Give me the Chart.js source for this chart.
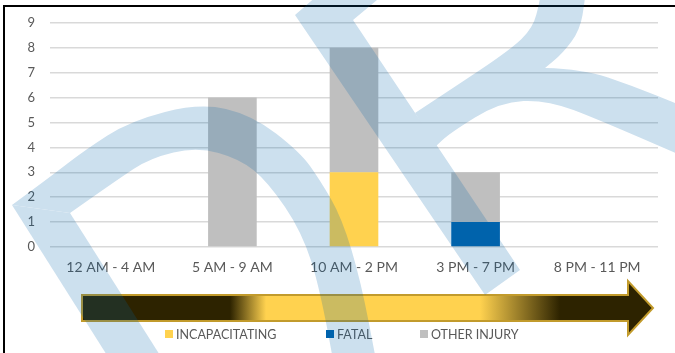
<!DOCTYPE html>
<html>
<head>
<meta charset="utf-8">
<script src="https://cdn.jsdelivr.net/npm/chart.js@4.4.0/dist/chart.umd.min.js"></script>
<style>
  html, body { margin: 0; padding: 0; background: #fff; }
  canvas { display: block; }
</style>
</head>
<body>
<canvas id="crashChart" width="675" height="353"></canvas>
<script>
// data
const categories = ["12 AM - 4 AM", "5 AM - 9 AM", "10 AM - 2 PM", "3 PM - 7 PM", "8 PM - 11 PM"];
const incapacitating = [0, 0, 3, 0, 0];
const fatal = [0, 0, 0, 1, 0];
const otherInjury = [0, 6, 5, 2, 0];
const yMax = 9;
const yStep = 1;

const FONT = "Lato, 'Open Sans', sans-serif";

// smooth line through points (current point must be pts[0])
function smoothThrough(ctx, pts) {
  for (let i = 1; i < pts.length - 1; i++) {
    const mx = (pts[i][0] + pts[i + 1][0]) / 2;
    const my = (pts[i][1] + pts[i + 1][1]) / 2;
    ctx.quadraticCurveTo(pts[i][0], pts[i][1], mx, my);
  }
  const last = pts[pts.length - 1];
  ctx.lineTo(last[0], last[1]);
}

// arrow + legend drawn under the watermark
const decorPlugin = {
  id: "decor",
  afterDatasetsDraw(chart) {
    const ctx = chart.ctx;
    ctx.save();

    // time arrow
    const x0 = 82, x1 = 628, tip = 653, cy = 308;
    const grad = ctx.createLinearGradient(x0, 0, tip, 0);
    const dark = "#2d2300", gold = "#ffd24f";
    const at = x => (x - x0) / (tip - x0);
    grad.addColorStop(0, dark);
    grad.addColorStop(at(230), dark);
    grad.addColorStop(at(266), gold);
    grad.addColorStop(at(480), gold);
    grad.addColorStop(at(560), dark);
    grad.addColorStop(1, dark);
    ctx.beginPath();
    ctx.moveTo(x0, cy - 13);
    ctx.lineTo(x1, cy - 13);
    ctx.lineTo(x1, cy - 27);
    ctx.lineTo(tip, cy);
    ctx.lineTo(x1, cy + 27);
    ctx.lineTo(x1, cy + 13);
    ctx.lineTo(x0, cy + 13);
    ctx.closePath();
    ctx.fillStyle = grad;
    ctx.fill();
    ctx.lineWidth = 2;
    ctx.strokeStyle = "#c29b2c";
    ctx.stroke();

    // legend
    const legendX = [165, 326, 420];
    const ly = 334;
    ctx.font = "12.5px " + FONT;
    ctx.textBaseline = "middle";
    ctx.textAlign = "left";
    chart.data.datasets.forEach((ds, i) => {
      ctx.fillStyle = ds.backgroundColor;
      ctx.fillRect(legendX[i], ly - 4, 8, 8);
      ctx.fillStyle = "#595959";
      ctx.fillText(ds.label, legendX[i] + 11, ly + 1);
    });

    // frame
    ctx.fillStyle = "#000";
    ctx.fillRect(3, 5, 672, 2);
    ctx.fillRect(3, 5, 2, 348);
    ctx.restore();
  },
  afterDraw(chart) {
    // light blue logo watermark over everything
    const off = document.createElement("canvas");
    off.width = chart.width;
    off.height = chart.height;
    const o = off.getContext("2d");
    o.fillStyle = "rgb(0,100,170)";

    // arch
    o.beginPath();
    o.moveTo(12, 205);
    smoothThrough(o, [[12, 205], [50, 177], [85, 150], [130, 121], [200, 103], [252, 115], [300, 152], [320, 180], [342, 218], [361, 282], [376, 360]]);
    o.lineTo(333, 360);
    smoothThrough(o, [[333, 360], [321, 292], [302, 232], [268, 182], [240, 159], [197, 147], [150, 158], [117, 180], [70, 213]]);
    o.closePath();
    o.fill();

    // lower left leg
    o.beginPath();
    o.moveTo(12, 205);
    o.lineTo(70, 213);
    o.lineTo(163, 360);
    o.lineTo(110, 360);
    o.closePath();
    o.fill();

    // long diagonal
    o.beginPath();
    o.moveTo(318, -5);
    o.lineTo(295, 15);
    o.lineTo(485, 295);
    o.lineTo(520, 270);
    o.lineTo(353, 20);
    o.lineTo(383, -5);
    o.closePath();
    o.fill();

    // upper right curl
    o.beginPath();
    o.moveTo(415, 113);
    smoothThrough(o, [[415, 113], [450, 90], [510, 50], [533, 28], [540, 0], [540, -5]]);
    o.lineTo(585, -5);
    smoothThrough(o, [[585, -5], [585, 0], [580, 30], [563, 53], [545, 68]]);
    smoothThrough(o, [[545, 68], [583, 69], [633, 86], [680, 105]]);
    o.lineTo(680, 155);
    smoothThrough(o, [[680, 155], [600, 120], [547, 100], [500, 102], [450, 133], [435, 147]]);
    o.closePath();
    o.fill();

    const ctx = chart.ctx;
    ctx.save();
    ctx.globalAlpha = 0.2;
    ctx.drawImage(off, 0, 0);
    ctx.restore();
  }
};

const ctx = document.getElementById("crashChart").getContext("2d");
const myChart = new Chart(ctx, {
  type: "bar",
  data: {
    labels: categories,
    datasets: [
      { label: "INCAPACITATING", data: incapacitating, backgroundColor: "#ffd24f" },
      { label: "FATAL", data: fatal, backgroundColor: "#0063ad" },
      { label: "OTHER INJURY", data: otherInjury, backgroundColor: "#bfbfbf" },
    ],
  },
  options: {
    responsive: false,
    animation: false,
    devicePixelRatio: 1,
    layout: { padding: { top: 21, right: 17, left: 0, bottom: 0 } },
    datasets: { bar: { categoryPercentage: 1, barPercentage: 0.4 } },
    plugins: { legend: { display: false }, tooltip: { enabled: false } },
    scales: {
      x: {
        stacked: true,
        grid: { display: false, drawTicks: false },
        border: { display: false },
        ticks: { color: "#595959", font: { family: FONT, size: 14 }, padding: 12, maxRotation: 0 },
        afterFit(scale) { scale.height = 106; },
      },
      y: {
        stacked: true,
        min: 0,
        max: yMax,
        grid: { color: "#d9d9d9", lineWidth: 1.5, drawTicks: false },
        border: { display: false },
        ticks: { stepSize: yStep, color: "#595959", font: { family: FONT, size: 13 }, padding: 15 },
        afterFit(scale) { scale.width = 50; },
      },
    },
  },
  plugins: [decorPlugin],
});
</script>
</body>
</html>
